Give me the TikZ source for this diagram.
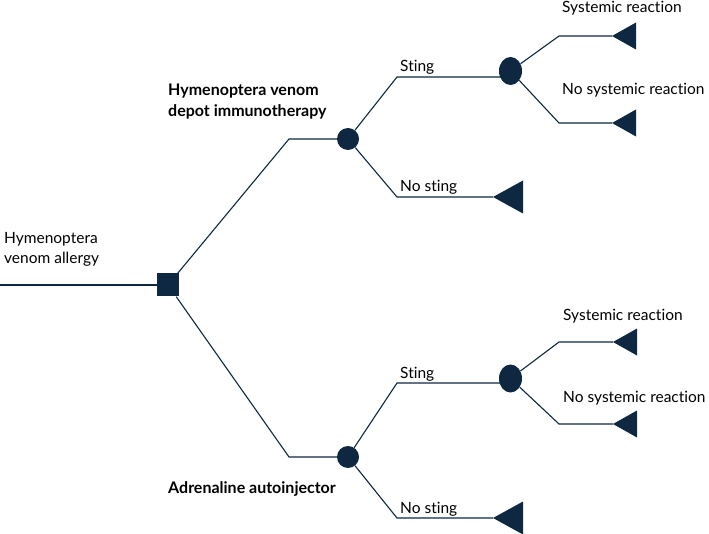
\documentclass[tikz,border=0pt]{standalone}
\usepackage{fontspec}
\setmainfont{Lato}[Ligatures=NoCommon]
\usetikzlibrary{shapes.geometric}
\definecolor{navy}{HTML}{0E2841}

\begin{document}
\begin{tikzpicture}[x=1pt,y=-1pt,
  rama/.style={draw=navy, line width=1.1pt},
  decision/.style={fill=navy, minimum width=22pt, minimum height=23pt, inner sep=0pt},
  azar/.style={circle, fill=navy, minimum size=22pt, inner sep=0pt},
  reaccion/.style={ellipse, fill=navy, minimum width=23pt, minimum height=28pt, inner sep=0pt},
  etiq/.style={anchor=base west, inner sep=0pt, font=\fontsize{15.5}{20}\selectfont},
  titulo/.style={anchor=base west, inner sep=0pt, align=left, font=\fontsize{16}{21}\selectfont\bfseries}]
  \useasboundingbox (0,0) rectangle (709,534);

  % Decisión
  \coordinate (raiz) at (0,285);
  \node[decision] (dec) at (168,285) {};
  \draw[rama] (raiz) -- (dec);
  \node[etiq, align=left] (alergia) at (4,264) {Hymenoptera\\venom allergy};

  % Nodos de azar
  \coordinate (b1) at (289,139);
  \coordinate (b2) at (289,457);
  \node[azar] (c1) at (348,139) {};
  \node[azar] (c2) at (348,457) {};
  \draw[rama] (dec) -- (b1) -- (c1);
  \draw[rama] (dec) -- (b2) -- (c2);
  \node[titulo] (inmuno) at (168,117) {Hymenoptera venom\\depot immunotherapy};
  \node[titulo] (adren) at (168,493) {Adrenaline autoinjector};

  % Picadura / sin picadura
  \node[reaccion] (s1) at (510.5,71) {};
  \node[reaccion] (s2) at (510.5,378.5) {};
  \coordinate (p1) at (397,77);
  \coordinate (p2) at (397,383);
  \coordinate (np1) at (397,197);
  \coordinate (np2) at (397,518);
  \coordinate (tn1) at (493,197);
  \coordinate (tn2) at (493,518);
  \draw[rama] (c1) -- (p1) -- (p1 -| s1);
  \draw[rama] (c2) -- (p2) -- (p2 -| s2);
  \draw[rama] (c1) -- (np1) -- (tn1);
  \draw[rama] (c2) -- (np2) -- (tn2);
  \node[etiq] (pic1) at (400,72) {Sting};
  \node[etiq] (pic2) at (400,378) {Sting};
  \node[etiq] (nopic1) at (400,192) {No sting};
  \node[etiq] (nopic2) at (400,513) {No sting};

  % Reacción sistémica
  \coordinate (r1) at (559,36);
  \coordinate (n1) at (559,123);
  \coordinate (r2) at (559,342);
  \coordinate (n2) at (559,424);
  \coordinate (tr1) at (612,36);
  \coordinate (tt1) at (612,123);
  \coordinate (tr2) at (613,342);
  \coordinate (tt2) at (613,424);
  \draw[rama] (s1) -- (r1) -- (tr1);
  \draw[rama] (s1) -- (n1) -- (tt1);
  \draw[rama] (s2) -- (r2) -- (tr2);
  \draw[rama] (s2) -- (n2) -- (tt2);
  \node[etiq] (sis1) at (562,13) {Systemic reaction};
  \node[etiq] (nosis1) at (562,95) {No systemic reaction};
  \node[etiq] (sis2) at (563,320) {Systemic reaction};
  \node[etiq] (nosis2) at (563,402) {No systemic reaction};

  % Nodos terminales
  \foreach \t in {tr1,tt1,tr2,tt2}
    \fill[navy] (\t) -- ++(24,-13.5) -- ++(0,27) -- cycle;
  \foreach \t in {tn1,tn2}
    \fill[navy] (\t) -- ++(30,-16.5) -- ++(0,33) -- cycle;
\end{tikzpicture}
\end{document}
